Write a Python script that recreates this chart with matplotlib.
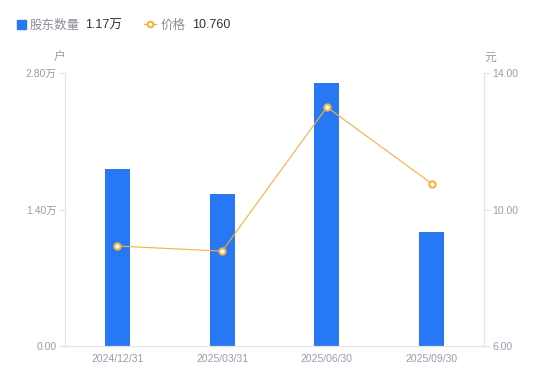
import matplotlib
matplotlib.use("Agg")
import matplotlib.pyplot as plt
from matplotlib.lines import Line2D

plt.rcParams['font.family'] = ['Liberation Sans', 'Noto Sans CJK SC', 'DejaVu Sans']

dates = ['2024/12/31', '2025/03/31', '2025/06/30', '2025/09/30']
holders = [1.815, 1.56, 2.70, 1.17]      # 万户
price = [8.93, 8.78, 13.00, 10.76]       # 元
left_ticks = [0, 1.4, 2.8]
left_labels = ['0.00', '1.40万', '2.80万']
right_ticks = [6, 10, 14]
right_labels = ['6.00', '10.00', '14.00']

blue = '#2778F4'
orange = '#F7B13F'
grey = '#9A9CAE'
axis_c = '#E4E4E8'

fig = plt.figure(figsize=(5.5, 3.81), dpi=100)
ax = fig.add_axes([65/550, 35/381, 419/550, 273/381])
x = range(len(dates))
ax.bar(x, holders, width=0.24, color=blue, zorder=2)
ax.set_xlim(-0.5, 3.5)
ax.set_ylim(0, 2.8)
ax.set_xticks(list(x))
ax.set_xticklabels(dates)
ax.set_yticks(left_ticks)
ax.set_yticklabels(left_labels)

ax2 = ax.twinx()
ax2.plot(x, price, color=orange, lw=0.8, marker='o', markersize=4.5,
         markerfacecolor='white', markeredgecolor=orange, markeredgewidth=1.5, zorder=3)
ax2.set_ylim(6, 14)
ax2.set_yticks(right_ticks)
ax2.set_yticklabels(right_labels)

for a in (ax, ax2):
    for s in a.spines.values():
        s.set_color(axis_c)
        s.set_linewidth(0.8)
    a.spines['top'].set_visible(False)
    a.tick_params(colors=grey, labelsize=7.5, length=4, width=0.8, color=axis_c, pad=2)
ax.tick_params(axis='x', length=0, pad=6)

fig.text(59/550, 1 - 61/381, '户', color=grey, fontsize=8.5, ha='center', va='baseline')
fig.text(490/550, 1 - 61/381, '元', color=grey, fontsize=8.5, ha='center', va='baseline')

# legend row
ly = 1 - 24/381
tb = 1 - 28.5/381
fig.patches.append(plt.Rectangle((17/550, ly - 4.5/381), 9/550, 9/381, color=blue,
                                 transform=fig.transFigure, figure=fig))
fig.text(30/550, tb, '股东数量', color='#8A8C99', fontsize=9, va='baseline')
fig.text(85/550, tb, '1.17万', color='#333333', fontsize=9, va='baseline')
fig.lines.append(Line2D([144/550, 156/550], [ly, ly], color=orange, lw=1,
                        transform=fig.transFigure))
fig.lines.append(Line2D([150/550], [ly], color=orange, marker='o', markersize=4,
                        markerfacecolor='white', markeredgewidth=1.5, transform=fig.transFigure))
fig.text(161/550, tb, '价格', color='#8A8C99', fontsize=9, va='baseline')
fig.text(192/550, tb, '10.760', color='#333333', fontsize=9, va='baseline')

fig.savefig('out.png', dpi=100)
